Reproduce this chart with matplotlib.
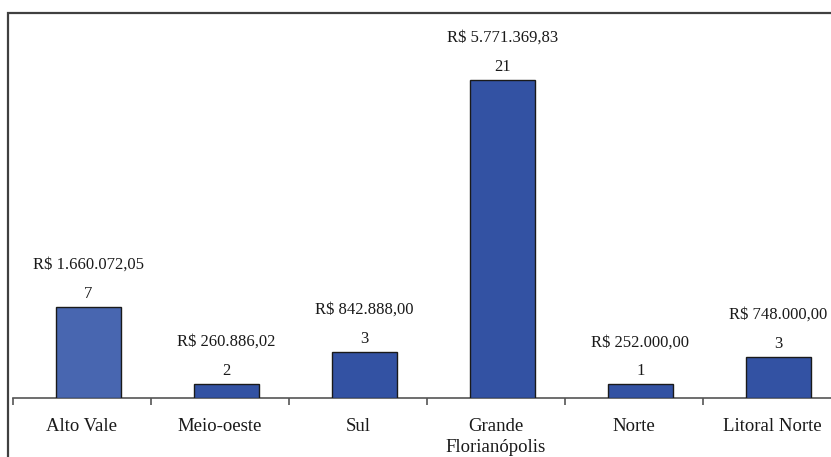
import matplotlib
matplotlib.use("Agg")
import matplotlib.pyplot as plt
from matplotlib.patches import Rectangle
import numpy as np

categories = ["Alto Vale", "Meio-oeste", "Sul", "Grande\nFlorianópolis", "Norte", "Litoral Norte"]
valores = [1660072.05, 260886.02, 842888.00, 5771369.83, 252000.00, 748000.00]
valor_labels = ["R$ 1.660.072,05", "R$ 260.886,02", "R$ 842.888,00",
                "R$ 5.771.369,83", "R$ 252.000,00", "R$ 748.000,00"]
contagens = [7, 2, 3, 21, 1, 3]
bar_colors = ["#4866b0", "#3352a3", "#3352a3", "#3352a3", "#3352a3", "#3352a3"]

W, H = 831, 457
fig = plt.figure(figsize=(W / 100, H / 100), dpi=100)
plt.rcParams['font.family'] = ['Liberation Serif', 'DejaVu Serif']

# axes: x from 13px to 841px, baseline at y=398px, top at y=13px
ax_left = 13 / W
ax_w = (841 - 13) / W
ax_bottom = (H - 398) / H
ax_h = (398 - 13) / H
ax = fig.add_axes([ax_left, ax_bottom, ax_w, ax_h])
ax.patch.set_alpha(0)

x = np.arange(len(categories))
offset = 0.045
ax.bar(x + offset, valores, width=0.47, color=bar_colors, edgecolor="#1a1a1a", linewidth=1.0, zorder=3)

ymax = valores[3] * (398 - 13) / 318
ax.set_ylim(0, ymax)
ax.set_xlim(-0.5, len(categories) - 0.5)

for xi, v, lab, c in zip(x, valores, valor_labels, contagens):
    ax.annotate(str(c), (xi + offset, v), xytext=(0, 9.3), textcoords="offset points",
                ha="center", va="center", fontsize=12, color="#1a1a1a")
    ax.annotate(lab, (xi + offset, v), xytext=(0, 30.2), textcoords="offset points",
                ha="center", va="center", fontsize=12, color="#1a1a1a")

for s in ["top", "right", "left"]:
    ax.spines[s].set_visible(False)
ax.spines["bottom"].set_color("#555555")
ax.spines["bottom"].set_linewidth(1.2)
ax.set_yticks([])
ax.set_xticks(x)
ax.set_xticklabels(categories, fontsize=13.5, color="#1a1a1a", linespacing=1.3)
ax.tick_params(axis="x", which="major", length=0, pad=14.5)
ax.set_xticks(np.arange(-0.5, len(categories)), minor=True)
ax.tick_params(axis="x", which="minor", length=5, width=1.2, color="#555555", direction="out")

# outer chart frame
frame = Rectangle((8 / W, -0.05), 1.0, 1 - 13 / H + 0.05, transform=fig.transFigure,
                  fill=False, edgecolor="#404040", linewidth=1.6, clip_on=False)
fig.patches.append(frame)

fig.savefig("out.png", dpi=100)
